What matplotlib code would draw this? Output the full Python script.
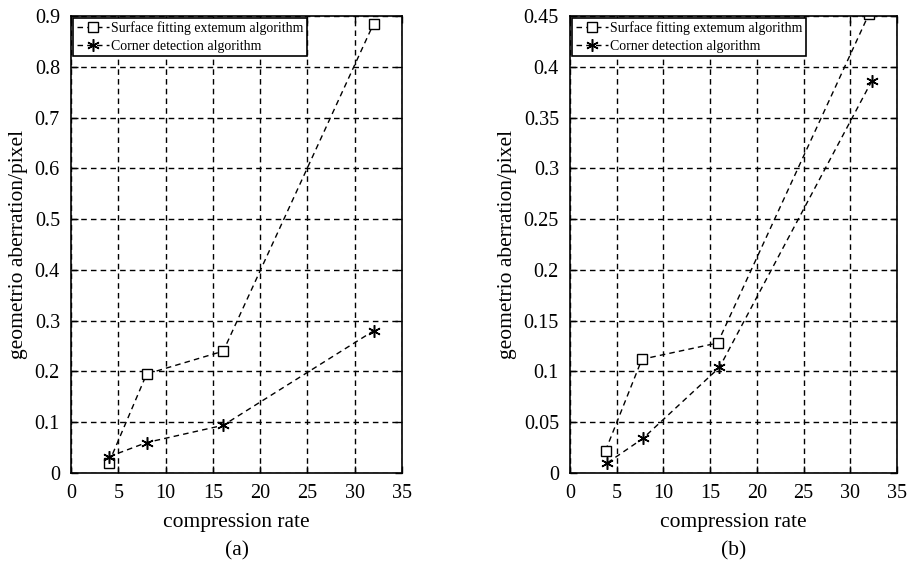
import matplotlib
matplotlib.use("Agg")
import matplotlib.pyplot as plt

plt.rcParams['font.family'] = ['Liberation Serif', 'DejaVu Serif']

# Panel (a)
a_surface_x = [4.0, 8.0, 16.1, 32.0]
a_surface_y = [0.02, 0.195, 0.24, 0.885]
a_corner_x = [4.0, 8.0, 16.1, 32.0]
a_corner_y = [0.032, 0.06, 0.094, 0.28]

# Panel (b)
b_surface_x = [3.8, 7.7, 15.8, 32.0]
b_surface_y = [0.022, 0.112, 0.128, 0.452]
b_corner_x = [4.0, 7.8, 16.0, 32.3]
b_corner_y = [0.01, 0.034, 0.104, 0.386]

x_ticks = [0, 5, 10, 15, 20, 25, 30, 35]
a_yticks = [0, 0.1, 0.2, 0.3, 0.4, 0.5, 0.6, 0.7, 0.8, 0.9]
a_ylabels = ['0', '0.1', '0.2', '0.3', '0.4', '0.5', '0.6', '0.7', '0.8', '0.9']
b_yticks = [0, 0.05, 0.1, 0.15, 0.2, 0.25, 0.3, 0.35, 0.4, 0.45]
b_ylabels = ['0', '0.05', '0.1', '0.15', '0.2', '0.25', '0.3', '0.35', '0.4', '0.45']

label_surface = 'Surface fitting extemum algorithm'
label_corner = 'Corner detection algorithm'

W, H = 908, 567
fig = plt.figure(figsize=(W / 100, H / 100), dpi=100)

def make_axes(x0, x1, y0, y1):
    return fig.add_axes([x0 / W, 1 - y1 / H, (x1 - x0) / W, (y1 - y0) / H])

ax_a = make_axes(71, 402, 16, 473)
ax_b = make_axes(570, 897, 16, 473)

panels = [
    (ax_a, a_surface_x, a_surface_y, a_corner_x, a_corner_y, 0.9, a_yticks, a_ylabels, '(a)'),
    (ax_b, b_surface_x, b_surface_y, b_corner_x, b_corner_y, 0.45, b_yticks, b_ylabels, '(b)'),
]

asterisk = (6, 2, 0)

for ax, sx, sy, cx, cy, ymax, yt, yl, tag in panels:
    ax.plot(sx, sy, linestyle=(0, (4, 3)), color='black', linewidth=1.0,
            marker='s', markersize=7, markerfacecolor='white',
            markeredgecolor='black', markeredgewidth=1.0, label=label_surface)
    ax.plot(cx, cy, linestyle=(0, (4, 3)), color='black', linewidth=1.0,
            marker=asterisk, markersize=9, markerfacecolor='black',
            markeredgecolor='black', markeredgewidth=1.1, label=label_corner)
    ax.set_xlim(0, 35)
    ax.set_ylim(0, ymax)
    ax.set_xticks(x_ticks)
    ax.set_yticks(yt)
    ax.set_yticklabels(yl)
    ax.grid(True, color='black', linestyle=(0, (4, 3)), linewidth=1.0)
    ax.tick_params(direction='in', top=True, right=True, length=5,
                   labelsize=14.5, width=1.0, pad=8)
    for s in ax.spines.values():
        s.set_linewidth(1.2)
    ax.set_xlabel('compression rate', fontsize=15.5, labelpad=7)
    ax.set_ylabel('geometrio aberration/pixel', fontsize=15.5, labelpad=5)
    leg = ax.legend(loc='upper left', fontsize=10, frameon=True, fancybox=False,
                    borderpad=0.25, labelspacing=0.3, handlelength=2.3,
                    handletextpad=0.2, borderaxespad=0.15)
    leg.get_frame().set_edgecolor('black')
    leg.get_frame().set_linewidth(1.2)
    leg.get_frame().set_alpha(1)
    ax.text(0.5, -0.17, tag, transform=ax.transAxes, ha='center', va='center',
            fontsize=15.5)

fig.savefig('out.png', dpi=100)
